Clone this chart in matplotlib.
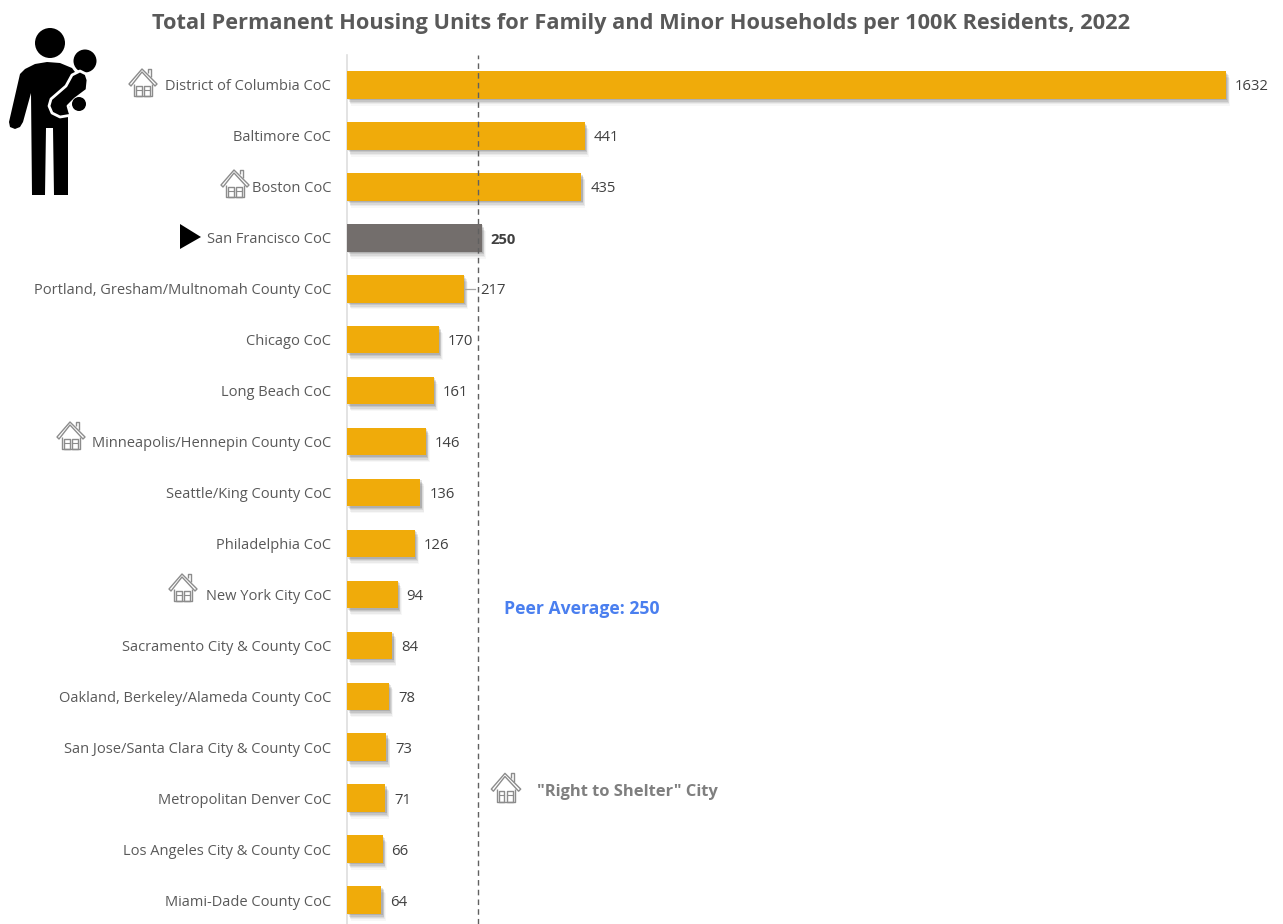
import matplotlib
matplotlib.use("Agg")
import matplotlib.pyplot as plt
import matplotlib.patheffects as pe
from matplotlib.patches import Circle, Polygon, Rectangle

plt.rcParams['font.family'] = ['Open Sans', 'DejaVu Sans']

# chart data
cities = ["District of Columbia CoC", "Baltimore CoC", "Boston CoC", "San Francisco CoC",
          "Portland, Gresham/Multnomah County CoC", "Chicago CoC", "Long Beach CoC",
          "Minneapolis/Hennepin County CoC", "Seattle/King County CoC", "Philadelphia CoC",
          "New York City CoC", "Sacramento City & County CoC", "Oakland, Berkeley/Alameda County CoC",
          "San Jose/Santa Clara City & County CoC", "Metropolitan Denver CoC",
          "Los Angeles City & County CoC", "Miami-Dade County CoC"]
units = [1632, 441, 435, 250, 217, 170, 161, 146, 136, 126, 94, 84, 78, 73, 71, 66, 64]
peer_line = 243

ORANGE = '#F0AB0A'
GREY_BAR = '#736E6C'
TEXT = '#595959'
W, H = 1283, 924


def house(ov, cx, cy, s=1.0, color='#8c8c8c'):
    # little outlined house icon, centred on cx, cy
    def p(pts):
        return [(cx + x * s, cy + y * s) for x, y in pts]
    kw = dict(fill=False, ec=color, lw=1.0, joinstyle='round', zorder=6)
    # roof
    ov.add_patch(Polygon(p([(-14, 2), (-1, -13), (14, 2), (12, 4), (-1, -10), (-12, 4)]), closed=True, **kw))
    # chimney
    ov.add_patch(Polygon(p([(5, -9), (5, -13), (8, -13), (8, -5)]), closed=False, **kw))
    # walls and doors
    ov.add_patch(Polygon(p([(-9, 2), (-9, 14), (9, 14), (9, 2)]), closed=False, **kw))
    ov.add_patch(Rectangle((cx - 7 * s, cy + 4 * s), 5.5 * s, 10 * s, **kw))
    ov.add_patch(Rectangle((cx + 1 * s, cy + 4 * s), 5.5 * s, 10 * s, **kw))
    ov.plot([cx - 7 * s, cx - 1.5 * s], [cy + 8 * s, cy + 8 * s], color=color, lw=0.8, zorder=6)
    ov.plot([cx + 1 * s, cx + 6.5 * s], [cy + 8 * s, cy + 8 * s], color=color, lw=0.8, zorder=6)


def person(ov):
    # adult holding a child, top left corner
    ov.add_patch(Circle((50, 43), 15, fc='black', ec='none'))
    body = [(47, 62), (35, 64), (25, 69), (20, 74), (9, 122), (10, 127), (15, 129), (20, 127), (23, 122),
            (31, 93), (32, 195), (45, 195), (46, 128), (53, 128), (54, 195), (68, 195),
            (68, 112), (78, 76), (72, 68), (60, 63)]
    ov.add_patch(Polygon(body, closed=True, fc='black', ec='none', zorder=2))
    ov.add_patch(Circle((85, 61), 11.5, fc='black', ec='none', zorder=3))
    child = [(80, 71), (86, 74), (88, 80), (87, 90), (75, 99), (68, 106), (70, 113), (72, 115),
             (60, 117), (52, 113), (49, 106), (51, 99), (66, 86), (72, 75)]
    ov.add_patch(Polygon(child, closed=True, fc='black', ec='white', lw=2.0, joinstyle='round', zorder=4))
    ov.add_patch(Circle((79, 104), 7, fc='black', ec='none', zorder=5))


fig = plt.figure(figsize=(W / 100, H / 100), dpi=100, facecolor='white')

# axes placed so bars land where they do in the original
scale = 879 / 1632
ax = fig.add_axes([347 / W, 0, 1 - 347 / W, (H - 55) / H])
ax.set_xlim(0, (W - 347) / scale)
ax.set_ylim((H - 85) / 50.94, -(85 - 55) / 50.94)

colors = [GREY_BAR if c.startswith("San Francisco") else ORANGE for c in cities]
bars = ax.barh(range(len(cities)), units, height=0.54, color=colors, zorder=3)
shadow = [pe.SimplePatchShadow(offset=(dx, dy), shadow_rgbFace='black', alpha=a)
          for dx, dy, a in [(3, -5, 0.03), (2.5, -4, 0.05), (2, -3, 0.07), (1.5, -2, 0.09), (1, -1, 0.11)]] + [pe.Normal()]
for b in bars:
    b.set_path_effects(shadow)

ax.set_yticks(range(len(cities)))
ax.set_yticklabels(cities, fontsize=10.5, color=TEXT)
ax.tick_params(axis='y', length=0, pad=11.5)
ax.set_xticks([])
for s in ['top', 'right', 'bottom']:
    ax.spines[s].set_visible(False)
ax.spines['left'].set_color('#dedede')
ax.spines['left'].set_linewidth(1.2)

# value labels
for i, v in enumerate(units):
    off = 9
    if v == 217:
        off = 16
    ax.annotate(str(v), (v, i), xytext=(off, -2), textcoords='offset pixels', va='center', ha='left',
                fontsize=10.7, color='#404040',
                fontweight='bold' if v == 250 else 'normal', zorder=5)

ax.axvline(peer_line, color='#606060', lw=1.0, ls=(0, (4, 3)), zorder=4)

# overlay in pixel coordinates for the title, notes and icons
ov = fig.add_axes([0, 0, 1, 1], facecolor='none')
ov.set_xlim(0, W)
ov.set_ylim(H, 0)
ov.axis('off')

ov.text(641, 23, "Total Permanent Housing Units for Family and Minor Households per 100K Residents, 2022",
        ha='center', va='center', fontsize=15.65, fontweight='bold', color=TEXT)
ov.text(504, 609, "Peer Average: 250", ha='left', va='center', fontsize=12.7, fontweight='bold', color='#4A7FEF')
ov.text(537, 792, '"Right to Shelter" City', ha='left', va='center', fontsize=11.85, fontweight='bold', color='#7f7f7f')

ov.plot([465, 475], [289, 289], color='#a6a6a6', lw=0.9, zorder=4)
ov.add_patch(Polygon([(180, 224), (201, 237), (180, 249)], closed=True, fc='black', ec='none'))

for cx, cy in [(143, 82), (235, 183), (71, 435), (183, 587)]:
    house(ov, cx, cy)
house(ov, 506, 787, s=1.05)
person(ov)

fig.savefig('out.png', dpi=100)
